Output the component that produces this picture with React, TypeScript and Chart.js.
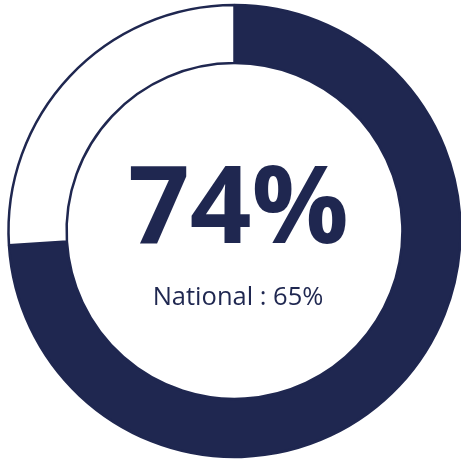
import React, { useEffect, useRef } from "react";
import { Chart, registerables } from "chart.js";

Chart.register(...registerables);

const categories = ["Local", "Remaining"];
const values = [74, 26];
const mainLabel = "74%";
const subLabel = "National : 65%";

const NAVY = "#1F2750";

export default function App() {
  const ref = useRef<HTMLCanvasElement | null>(null);

  useEffect(() => {
    if (!ref.current) return;
    const centerText = {
      id: "centerText",
      afterDraw(chart: any) {
        const { ctx } = chart;
        ctx.save();
        ctx.fillStyle = NAVY;
        ctx.textAlign = "center";
        ctx.textBaseline = "alphabetic";
        ctx.font = "bold 108px 'Open Sans'";
        ctx.fillText(mainLabel, 238.5, 243);
        ctx.font = "25.5px 'Open Sans'";
        ctx.fillText(subLabel, 238, 305);
        ctx.restore();
      },
    };
    const chart = new Chart(ref.current, {
      type: "doughnut",
      data: {
        labels: categories,
        datasets: [
          {
            data: values,
            backgroundColor: [NAVY, "#FFFFFF"],
            borderColor: NAVY,
            borderWidth: 2.5,
          },
        ],
      },
      options: {
        animation: false,
        responsive: false,
        maintainAspectRatio: false,
        radius: 226,
        cutout: "74.3%",
        layout: { padding: { left: 8, right: 0, top: 2, bottom: 0 } },
        plugins: {
          legend: { display: false },
          tooltip: { enabled: false },
        },
      } as any,
      plugins: [centerText],
    });
    return () => chart.destroy();
  }, []);

  return (
    <div style={{ position: "absolute", left: 0, top: 0, width: 461, height: 460, background: "#fff" }}>
      <canvas ref={ref} width={461} height={460} style={{ width: 461, height: 460 }} />
    </div>
  );
}
